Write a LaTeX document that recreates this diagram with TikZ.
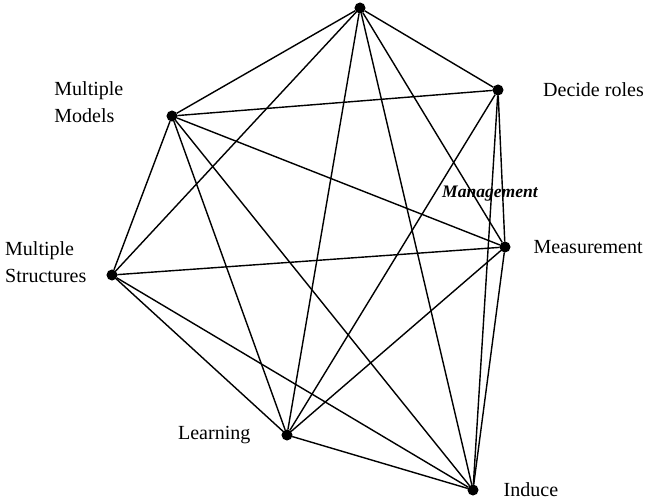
\documentclass[tikz,border=0pt]{standalone}
\usepackage{fontspec}
\setmainfont{Liberation Serif}
\usepackage{tikz}
\usetikzlibrary{arrows}
\usetikzlibrary{calc}
\usetikzlibrary{positioning}

\begin{document}
\begin{tikzpicture}[-,>=stealth',x=0.02cm,y=-0.02cm,auto,node distance=0.5cm,
                    line width=0.8pt]
 				 \tikzstyle{dot}=[circle, fill=black, draw=black, inner sep=0pt, minimum size=0.19cm]
 				 \tikzstyle{lbl}=[inner sep=0pt, align=left, font=\fontsize{11.4}{15.5}\selectfont]
				 \useasboundingbox (0,0) rectangle (646,499);
 					 \node[dot] (top)        at (360,8)   {};
 					 \node[dot] (decide)     at (498,90)  {};
 					 \node[dot] (models)     at (172,116) {};
 					 \node[dot] (measure)    at (505,247) {};
 					 \node[dot] (structures) at (112,275) {};
 					 \node[dot] (learning)   at (287,435) {};
 					 \node[dot] (induce)     at (473,490) {};
 					 \node[lbl] (decidelbl)     [right=0.78cm of decide] {Decide roles};
 					 \node[lbl] (measurelbl)    [right=0.45cm of measure] {Measurement};
 					 \node[lbl, yshift=0.28cm] (modelslbl) [left=0.85cm of models] {Multiple\\Models};
 					 \node[lbl, yshift=0.26cm] (structureslbl) [left=0.39cm of structures] {Multiple\\Structures};
 					 \node[lbl] (learninglbl)   [left=0.61cm of learning] {Learning};
 					 \node[lbl] (inducelbl)     [right=0.49cm of induce] {Induce};
 					 \node[inner sep=0pt, font=\fontsize{10}{12}\selectfont\bfseries\itshape] (mgmt) at (490,194) {Management};
 					 \path (top) edge (models)
 					 		 	(top) edge (decide)
 					 		 	(top) edge (structures)
 					 		 	(top) edge (learning)
 					 		 	(top) edge (measure)
 					 		 	(top) edge (induce)
 					 		 	(models) edge (decide)
 					 		 	(models) edge (structures)
 					 		 	(models) edge (learning)
 					 		 	(models) edge (measure)
 					 		 	(models) edge (induce)
 					 		 	(decide) edge (learning)
 					 		 	(decide) edge (measure)
 					 		 	(decide) edge (induce)
 					 		 	(structures) edge (measure)
 					 		 	(structures) edge (learning)
 					 		 	(structures) edge (induce)
 					 		 	(measure) edge (learning)
 					 		 	(measure) edge (induce)
 					 			(learning) edge (induce);
				\end{tikzpicture}
\end{document}
